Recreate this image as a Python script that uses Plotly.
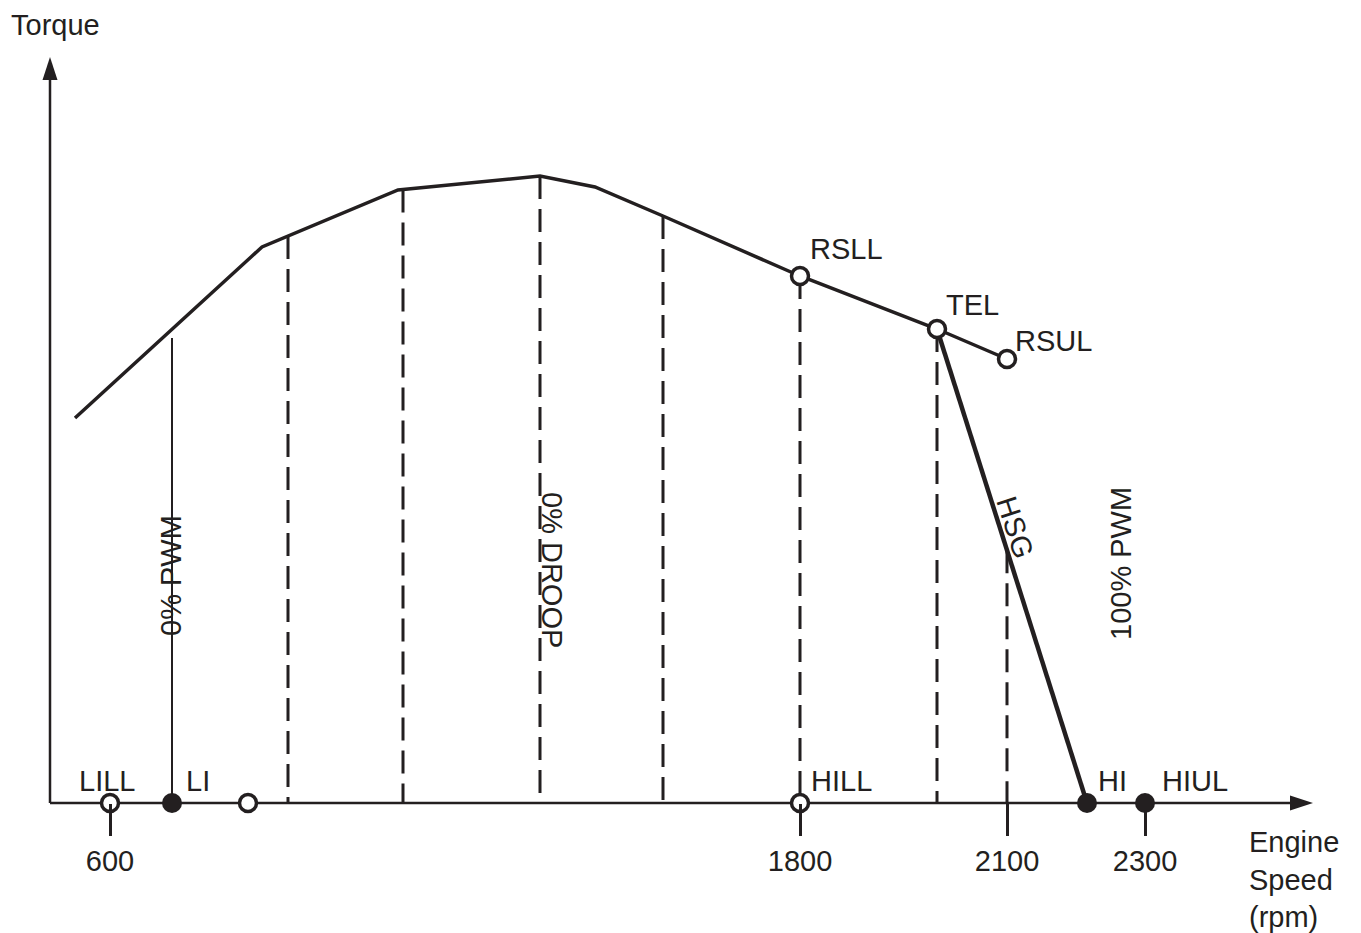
import numpy as np
import plotly.graph_objects as go

# ------------------------------------------------------------
# Engine governor map - torque vs. engine speed (schematic)
# x = position along speed axis, y = torque (diagram units)
# ------------------------------------------------------------

INK = "#231f20"
FONT = "Liberation Sans, Arial, Helvetica, sans-serif"
FS = 29

# full load torque curve
curve_speed = [25, 212, 348, 490, 545, 613, 750, 887, 957]
curve_torque = [385, 556, 613, 627, 616, 587, 527, 474, 444]

# high speed governor line (TEL -> HI)
hsg_speed = [887, 1037]
hsg_torque = [474, 0]

# 0% droop lines, dropped from the torque curve
droop_speed = [238, 353, 490, 613, 750, 887]
# 2100 rpm line, dropped from the HSG line
hsg_drop_speed = [957]

# 0% PWM line at LI
pwm_speed = 122
pwm_top = 465

# points on the torque curve
curve_pts_name = ["RSLL", "TEL", "RSUL"]
curve_pts_speed = [750, 887, 957]
curve_pts_torque = [527, 474, 444]

# points on the speed axis
open_axis_name = ["LILL", "", "HILL"]
open_axis_speed = [60, 198, 750]
filled_axis_name = ["LI", "HI", "HIUL"]
filled_axis_speed = [122, 1037, 1095]

# speed axis ticks
tick_speed = [60, 750, 957, 1095]
tick_text = ["600", "1800", "2100", "2300"]

# axis ends
x_end = 1263
y_end = 746

# page body has an 8px margin, so the figure is a bit smaller
W, H = 1353, 925

fig = go.Figure()

# axes lines (stop at arrowhead base)
fig.add_trace(go.Scatter(x=[0, x_end - 23], y=[0, 0], mode="lines",
                         line=dict(color=INK, width=2.5), hoverinfo="skip"))
fig.add_trace(go.Scatter(x=[0, 0], y=[0, y_end - 23], mode="lines",
                         line=dict(color=INK, width=2.5), hoverinfo="skip"))

# 0% PWM line
fig.add_trace(go.Scatter(x=[pwm_speed, pwm_speed], y=[pwm_top, 0], mode="lines",
                         line=dict(color=INK, width=2), hoverinfo="skip"))

# dashed droop lines
tops = list(np.interp(droop_speed, curve_speed, curve_torque))
tops += list(np.interp(hsg_drop_speed, hsg_speed, hsg_torque))
dx, dy = [], []
for s, t in zip(droop_speed + hsg_drop_speed, tops):
    dx += [s, s, None]
    dy += [t, 0, None]
fig.add_trace(go.Scatter(x=dx, y=dy, mode="lines",
                         line=dict(color=INK, width=3, dash="23px,10px"),
                         hoverinfo="skip"))

# torque curve and HSG
fig.add_trace(go.Scatter(x=curve_speed, y=curve_torque, mode="lines",
                         line=dict(color=INK, width=3.5), hoverinfo="skip"))
fig.add_trace(go.Scatter(x=hsg_speed, y=hsg_torque, mode="lines",
                         line=dict(color=INK, width=4.5), hoverinfo="skip"))

# markers
open_marker = dict(symbol="circle", size=17, color="white",
                   line=dict(color=INK, width=3.5))
fig.add_trace(go.Scatter(x=curve_pts_speed, y=curve_pts_torque, mode="markers",
                         marker=open_marker, hoverinfo="skip"))
fig.add_trace(go.Scatter(x=open_axis_speed, y=[0] * len(open_axis_speed),
                         mode="markers", marker=open_marker, hoverinfo="skip"))
fig.add_trace(go.Scatter(x=filled_axis_speed, y=[0] * len(filled_axis_speed),
                         mode="markers",
                         marker=dict(symbol="circle", size=20, color=INK),
                         hoverinfo="skip"))

# arrowheads
fig.add_shape(type="path", line=dict(width=0), fillcolor=INK,
              path=f"M {x_end},0 L {x_end - 23},7.5 L {x_end - 23},-7.5 Z")
fig.add_shape(type="path", line=dict(width=0), fillcolor=INK,
              path=f"M 0,{y_end} L -7.5,{y_end - 23} L 7.5,{y_end - 23} Z")

ann = []


def label(text, x, y, xanchor="left", xshift=0, yshift=0, angle=0):
    ann.append(dict(text=text, x=x, y=y, xref="x", yref="y", showarrow=False,
                    xanchor=xanchor, yanchor="middle", xshift=xshift,
                    yshift=yshift, textangle=angle,
                    font=dict(family=FONT, size=FS, color=INK)))


# point labels
label("LILL", open_axis_speed[0], 0, xanchor="center", xshift=-3, yshift=22)
label("HILL", open_axis_speed[2], 0, xshift=9, yshift=22)
label("LI", filled_axis_speed[0], 0, xshift=12, yshift=22)
label("HI", filled_axis_speed[1], 0, xshift=9, yshift=22)
label("HIUL", filled_axis_speed[2], 0, xshift=15, yshift=22)
label("RSLL", curve_pts_speed[0], curve_pts_torque[0], xshift=8, yshift=27)
label("TEL", curve_pts_speed[1], curve_pts_torque[1], xshift=7, yshift=24)
label("RSUL", curve_pts_speed[2], curve_pts_torque[2], xshift=6, yshift=18)

# region labels
label("0% PWM", 121, 227, xanchor="center", angle=-90)
label("0% DROOP", 502, 233, xanchor="center", angle=90)
label("HSG", 965, 276, xanchor="center", angle=72)
label("100% PWM", 1071, 239, xanchor="center", angle=-90)

# axis titles
ann.append(dict(text="Torque", x=2 / W, y=1, xref="paper", yref="paper",
                showarrow=False, xanchor="left", yanchor="top", borderpad=0,
                font=dict(family=FONT, size=FS, color=INK)))
ann.append(dict(text="Engine<br>Speed<br>(rpm)", x=1197, y=-76, xref="x", yref="y",
                showarrow=False, xanchor="left", yanchor="middle", align="left",
                font=dict(family=FONT, size=FS, color=INK)))

fig.update_layout(
    width=W, height=H,
    margin=dict(l=0, r=0, t=0, b=0),
    paper_bgcolor="white", plot_bgcolor="white",
    showlegend=False,
    annotations=ann,
    xaxis=dict(range=[-42, 1311], showgrid=False, zeroline=False, showline=False,
               anchor="free", position=130 / H,
               ticks="outside", ticklen=32, tickwidth=2.5, tickcolor=INK,
               tickvals=tick_speed, ticktext=tick_text,
               tickfont=dict(family=FONT, size=FS, color=INK)),
    yaxis=dict(range=[-130, 795], showgrid=False, zeroline=False,
               showline=False, showticklabels=False, ticks=""),
)

fig.write_html("out.html", config={"displayModeBar": False})
